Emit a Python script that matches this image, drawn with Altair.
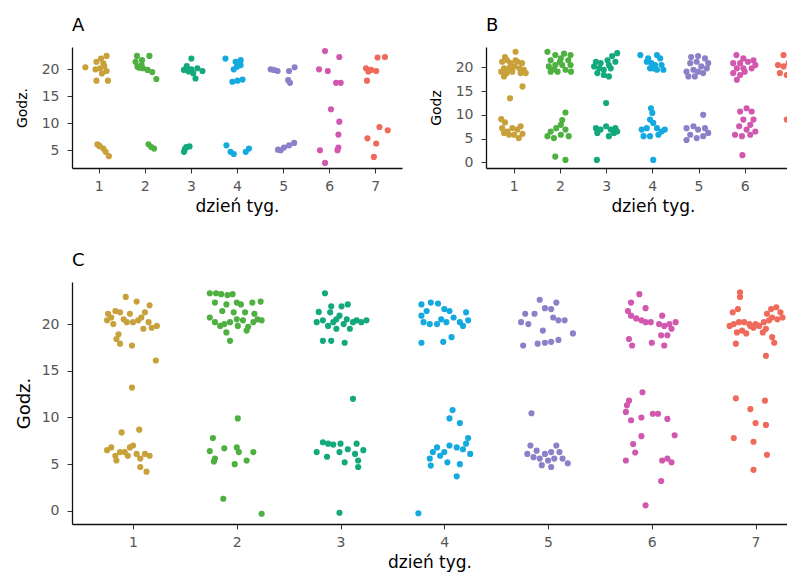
import altair as alt
import pandas as pd

DAYS = [1, 2, 3, 4, 5, 6, 7]
COLORS = ["#C9A13B", "#4DB040", "#12A97C", "#14AADF", "#8D80C9", "#D257AF", "#EF6A5B"]
X_TITLE = "dzień tyg."

# ---- Panel A: (jitter from day, hour) per day ----
A1 = [(-0.29, 20.4), (-0.05, 21.4), (0.05, 22.0), (0.17, 22.5), (0.10, 21.1), (-0.07, 20.0),
      (0.17, 19.7), (0.03, 20.2), (-0.05, 17.9), (0.20, 17.9), (0.07, 19.25), (0.12, 20.6),
      (-0.03, 6.1), (0.02, 5.75), (0.10, 5.3), (0.15, 4.7), (0.22, 3.9), (0.00, 5.9)]
A2 = [(-0.17, 22.5), (0.10, 22.5), (-0.20, 21.4), (-0.06, 21.7), (-0.16, 20.5), (-0.04, 20.2),
      (0.06, 19.9), (-0.07, 20.8), (0.16, 19.5), (0.25, 18.2), (-0.12, 20.3),
      (0.08, 6.1), (0.20, 5.3), (0.14, 5.6)]
A3 = [(0.01, 22.0), (-0.15, 19.9), (0.01, 20.0), (0.14, 20.2), (0.25, 19.7), (0.05, 19.3),
      (0.10, 18.3), (-0.09, 20.6), (-0.05, 19.6),
      (-0.15, 4.7), (-0.10, 5.6), (-0.03, 5.7), (-0.13, 5.2)]
A4 = [(-0.25, 22.0), (-0.03, 21.4), (0.08, 21.7), (0.08, 20.8), (-0.07, 20.0), (0.00, 20.5),
      (-0.10, 17.7), (0.12, 18.1), (0.01, 17.9),
      (-0.23, 5.9), (-0.14, 4.7), (-0.07, 4.3), (0.19, 4.7), (0.26, 5.3)]
A5 = [(-0.27, 20.0), (-0.12, 19.7), (-0.20, 19.9), (0.13, 19.7), (0.25, 20.4), (0.11, 18.0),
      (0.15, 17.5),
      (-0.11, 5.1), (0.02, 5.5), (0.13, 5.9), (0.24, 6.35), (-0.05, 5.0)]
A6 = [(-0.09, 23.4), (0.22, 22.3), (-0.22, 20.0), (-0.03, 19.7), (0.15, 17.5), (0.25, 17.5),
      (0.04, 12.6), (0.22, 10.3), (0.20, 7.9), (-0.20, 5.0), (0.18, 5.0), (0.20, 5.5), (-0.09, 2.65)]
A7 = [(0.05, 22.2), (0.21, 22.3), (-0.20, 20.2), (-0.09, 19.9), (0.02, 19.7), (-0.15, 19.6),
      (-0.18, 17.9),
      (0.09, 9.3), (0.27, 8.7), (-0.17, 7.2), (0.02, 6.25), (-0.03, 3.75)]

# ---- Panel B ----
B1 = [(0.04, 23.3), (-0.19, 22.2), (-0.25, 21.2), (-0.07, 20.9), (0.08, 21.2), (0.18, 20.9),
      (-0.21, 19.8), (-0.10, 19.8), (0.01, 20.2), (0.12, 19.8), (0.22, 19.5), (-0.27, 19.1),
      (-0.15, 18.8), (-0.03, 19.1), (0.15, 18.8), (0.26, 18.8), (-0.21, 18.1), (0.04, 21.5),
      (-0.14, 21.5), (0.19, 16.0), (-0.08, 13.5),
      (-0.27, 9.1), (-0.19, 8.4), (-0.25, 7.2), (-0.14, 6.5), (-0.03, 7.2), (0.08, 6.9),
      (0.15, 7.6), (0.19, 6.0), (0.01, 5.8), (-0.10, 5.8), (0.11, 5.1), (-0.21, 6.2)]
B2 = [(-0.27, 23.3), (-0.10, 22.6), (0.09, 22.9), (0.23, 22.6), (-0.20, 21.5), (0.02, 21.9),
      (0.18, 21.5), (-0.24, 20.2), (-0.10, 20.5), (0.05, 20.5), (0.23, 20.5), (-0.20, 19.1),
      (-0.05, 19.1), (0.12, 19.5), (0.24, 19.1), (0.00, 21.2), (-0.13, 19.6),
      (0.12, 10.5), (0.05, 8.9), (0.02, 7.9), (-0.08, 7.2), (0.12, 6.9), (-0.20, 6.5),
      (-0.27, 5.5), (-0.13, 5.1), (0.02, 5.8), (0.19, 5.5), (-0.10, 1.2), (0.12, 0.5)]
B3 = [(0.24, 23.0), (0.13, 22.4), (0.03, 21.5), (-0.22, 21.2), (-0.12, 20.9), (0.06, 20.5),
      (0.20, 21.2), (-0.26, 20.2), (-0.15, 19.8), (-0.05, 19.5), (0.10, 19.8), (-0.19, 18.8),
      (-0.05, 18.4), (0.06, 18.1), (0.00, 12.5),
      (-0.22, 7.2), (-0.12, 6.9), (0.00, 7.6), (0.10, 6.9), (0.20, 7.2), (-0.19, 6.2),
      (0.06, 5.5), (0.17, 6.2), (0.24, 6.5), (-0.20, 0.5)]
B4 = [(-0.26, 22.6), (-0.09, 21.9), (0.10, 22.6), (0.17, 21.9), (-0.02, 20.9), (0.06, 20.5),
      (0.20, 20.5), (-0.05, 19.8), (0.10, 19.5), (0.24, 19.5), (-0.12, 21.2), (0.02, 19.8),
      (-0.03, 11.4), (0.00, 10.4), (-0.05, 9.0), (0.02, 8.3), (-0.12, 7.2), (-0.23, 6.9),
      (0.10, 7.2), (0.20, 6.5), (0.27, 6.9), (-0.19, 5.5), (-0.05, 5.5), (0.13, 5.8), (0.02, 0.5)]
B5 = [(-0.16, 22.2), (-0.01, 22.4), (0.14, 21.9), (0.21, 20.9), (-0.18, 20.9), (-0.04, 21.2),
      (0.06, 20.2), (0.18, 19.8), (-0.26, 19.1), (-0.11, 19.5), (0.10, 18.8), (-0.22, 18.1),
      (-0.08, 18.1), (-0.01, 19.1),
      (0.10, 10.0), (-0.26, 7.2), (-0.11, 7.6), (-0.01, 6.9), (0.14, 7.2), (0.21, 6.2),
      (-0.18, 5.8), (-0.04, 5.1), (0.10, 5.5), (-0.26, 4.7)]
B6 = [(-0.18, 22.6), (-0.03, 21.9), (-0.25, 20.9), (-0.10, 20.9), (0.07, 21.2), (0.19, 21.5),
      (-0.17, 19.8), (-0.03, 19.8), (0.15, 19.8), (0.23, 20.5), (-0.25, 18.8), (-0.10, 18.4),
      (0.00, 19.1), (-0.17, 17.4),
      (0.04, 11.4), (0.15, 10.7), (-0.10, 10.7), (0.19, 9.0), (-0.03, 9.0), (0.12, 7.9),
      (-0.12, 7.6), (0.04, 6.9), (-0.21, 5.8), (-0.06, 5.5), (0.12, 5.8), (0.23, 6.5), (-0.05, 1.5)]
B7 = [(-0.16, 22.6), (0.02, 22.9), (-0.28, 20.5), (-0.16, 20.2), (-0.05, 20.9), (0.05, 19.8),
      (-0.24, 18.8), (-0.09, 18.4), (0.02, 17.4), (0.12, 20.9), (0.20, 20.0), (0.25, 21.5),
      (0.18, 18.7),
      (0.07, 12.5), (0.05, 11.1), (-0.09, 9.0), (-0.02, 7.9), (0.20, 10.0)]

# ---- Panel C ----
C1 = [(-0.07, 22.9), (0.035, 22.4), (0.16, 22.0), (-0.24, 21.1), (-0.17, 21.4), (-0.125, 21.25),
      (-0.21, 20.7), (-0.25, 20.4), (-0.19, 20.0), (-0.09, 20.5), (-0.03, 21.1), (-0.06, 20.2),
      (0.00, 20.2), (0.08, 20.7), (0.115, 21.25), (0.15, 20.2), (0.05, 20.4), (0.10, 19.5),
      (0.23, 19.8), (0.18, 19.6), (-0.14, 18.9), (-0.16, 18.4), (-0.125, 17.9), (-0.01, 17.7),
      (0.22, 16.1), (-0.01, 13.2),
      (-0.11, 8.4), (0.06, 8.7), (-0.25, 6.5), (-0.21, 6.8), (-0.17, 5.9), (-0.125, 6.3),
      (-0.16, 5.4), (-0.08, 6.3), (-0.03, 6.8), (0.00, 7.0), (-0.05, 5.9), (0.035, 6.1),
      (0.07, 5.6), (0.16, 5.9), (0.115, 6.1), (0.07, 4.7), (0.13, 4.2)]
C2 = [(-0.26, 23.3), (-0.20, 23.3), (-0.15, 23.2), (-0.09, 23.1), (-0.04, 23.2), (-0.21, 22.3),
      (-0.10, 22.1), (0.00, 22.3), (0.04, 22.1), (0.15, 22.3), (0.23, 22.4), (-0.14, 21.4),
      (-0.03, 21.25), (0.08, 21.25), (0.17, 21.1), (-0.26, 20.7), (-0.21, 20.2), (-0.16, 19.8),
      (-0.12, 20.0), (-0.065, 20.2), (0.00, 20.5), (0.01, 19.8), (0.06, 20.4), (0.11, 19.7),
      (0.16, 20.2), (0.20, 20.5), (0.24, 20.4), (0.095, 19.3), (-0.10, 19.1), (-0.065, 18.2),
      (0.01, 9.9), (-0.23, 7.8), (-0.26, 6.4), (-0.21, 5.6), (-0.12, 6.7), (0.00, 6.8),
      (0.02, 6.3), (-0.02, 5.0), (0.095, 5.4), (0.16, 6.3), (-0.22, 5.3), (-0.13, 1.3), (0.24, -0.3)]
C3 = [(-0.15, 23.3), (-0.21, 21.3), (-0.09, 21.9), (0.01, 21.9), (0.07, 22.1), (-0.10, 21.25),
      (-0.23, 20.2), (-0.17, 20.4), (-0.12, 19.8), (-0.07, 20.2), (-0.04, 20.5), (-0.01, 20.9),
      (0.03, 20.0), (0.06, 20.5), (0.09, 19.5), (0.12, 20.2), (0.155, 20.4), (0.20, 20.2),
      (0.25, 20.4), (-0.04, 19.5), (-0.17, 18.2), (-0.09, 18.2), (0.04, 18.0), (0.12, 12.0),
      (-0.17, 7.35), (-0.12, 7.2), (-0.07, 7.1), (0.00, 7.2), (0.07, 6.6), (0.155, 7.2),
      (-0.23, 6.3), (-0.13, 5.8), (-0.01, 6.3), (0.04, 5.2), (0.14, 6.1), (0.22, 6.5),
      (0.17, 5.4), (0.17, 4.7), (-0.01, -0.2)]
C4 = [(-0.22, 22.1), (-0.13, 22.3), (-0.06, 22.2), (0.00, 21.6), (0.05, 21.4), (-0.17, 21.4),
      (-0.22, 20.9), (-0.20, 20.2), (-0.14, 20.0), (-0.07, 20.0), (-0.03, 20.5), (0.02, 20.2),
      (0.09, 20.7), (0.15, 20.2), (0.18, 19.8), (0.21, 21.25), (0.23, 20.4), (-0.22, 18.0),
      (-0.01, 18.1), (0.07, 18.6),
      (0.08, 10.8), (0.05, 9.9), (0.15, 9.4), (0.23, 7.8), (0.21, 7.2), (0.18, 6.6),
      (0.25, 6.1), (0.12, 6.8), (0.05, 7.0), (0.00, 6.3), (-0.04, 5.9), (-0.07, 6.8),
      (-0.11, 6.3), (-0.14, 5.6), (-0.13, 4.85), (0.03, 5.2), (0.15, 5.0), (0.12, 3.7), (-0.25, -0.25)]
C5 = [(-0.08, 22.6), (0.08, 22.3), (-0.03, 21.7), (0.03, 21.6), (-0.22, 21.1), (-0.13, 21.1),
      (-0.26, 20.2), (-0.19, 20.0), (0.05, 20.7), (0.10, 20.4), (0.16, 20.4), (-0.05, 19.3),
      (0.24, 19.0), (-0.24, 17.7), (-0.10, 17.9), (-0.03, 18.0), (0.03, 18.1), (0.10, 18.3),
      (-0.16, 10.45),
      (-0.17, 7.0), (-0.11, 6.45), (-0.20, 6.1), (-0.14, 5.75), (-0.08, 5.6), (-0.03, 6.1),
      (0.00, 5.4), (0.03, 6.3), (0.08, 7.0), (0.11, 6.3), (0.14, 5.6), (0.19, 5.1),
      (-0.06, 4.9), (0.03, 4.7), (0.06, 5.6)]
C6 = [(-0.12, 23.2), (-0.20, 22.3), (-0.06, 21.7), (-0.23, 21.4), (-0.20, 20.9), (-0.15, 20.6),
      (-0.10, 20.4), (-0.06, 20.2), (-0.01, 20.2), (0.10, 20.9), (0.07, 20.0), (0.12, 19.8),
      (0.17, 20.0), (0.23, 20.2), (0.19, 19.5), (0.09, 18.8), (0.15, 18.8), (-0.22, 18.4),
      (-0.19, 17.7), (0.00, 18.0), (0.12, 17.7),
      (-0.09, 12.7), (-0.22, 11.8), (-0.24, 11.3), (-0.25, 10.6), (-0.20, 9.7), (-0.10, 10.0),
      (0.01, 10.4), (0.06, 10.4), (0.15, 9.85), (0.22, 8.1), (-0.10, 8.0), (-0.18, 7.15),
      (-0.16, 6.25), (-0.25, 5.4), (0.10, 5.4), (0.15, 5.6), (0.19, 5.2), (0.09, 3.2), (-0.06, 0.6)]
C7 = [(-0.15, 23.4), (-0.15, 22.9), (-0.17, 21.6), (-0.22, 21.25), (-0.25, 19.8), (-0.21, 20.0),
      (-0.16, 20.2), (-0.11, 20.2), (-0.06, 20.0), (-0.18, 19.1), (-0.13, 19.3), (-0.09, 19.0),
      (-0.19, 17.9), (-0.02, 19.6), (0.035, 19.8), (0.08, 20.2), (0.11, 21.1), (0.15, 21.6),
      (0.20, 21.8), (0.24, 21.25), (0.26, 20.7), (0.16, 20.7), (0.21, 20.5), (0.13, 20.4),
      (0.10, 19.5), (0.07, 19.1), (0.16, 18.6), (0.18, 18.0), (0.10, 16.6), (-0.05, 19.8),
      (0.00, 20.0),
      (-0.19, 12.05), (0.09, 11.8), (-0.05, 10.9), (0.00, 9.4), (0.10, 9.2), (-0.21, 7.8),
      (-0.02, 7.4), (0.11, 6.0), (-0.02, 4.4)]

FONT = "DejaVu Sans"


def frame(day_lists):
    rows = []
    for day, pts in zip(DAYS, day_lists):
        for jit, hour in pts:
            rows.append({"day": day, "jit": jit, "hour": hour})
    return pd.DataFrame(rows)


def panel(df, label, ytitle, xdom, ydom, yticks, xticks, w, h, ytitle_size, ytitle_pad,
          xtitle_pad, xtitle_x=None):
    xaxis_kw = dict(values=xticks, title=X_TITLE, format="d", titlePadding=xtitle_pad)
    if xtitle_x is not None:
        xaxis_kw["titleX"] = xtitle_x
    return (
        alt.Chart(df)
        .mark_circle(size=38, opacity=1, clip=True)
        .transform_calculate(xpos="datum.day + datum.jit")
        .encode(
            x=alt.X("xpos:Q",
                    scale=alt.Scale(domain=xdom, nice=False, zero=False),
                    axis=alt.Axis(labelPadding=6, **xaxis_kw)),
            y=alt.Y("hour:Q",
                    scale=alt.Scale(domain=ydom, nice=False, zero=False),
                    axis=alt.Axis(values=yticks, title=ytitle, titleFontSize=ytitle_size,
                                  titlePadding=ytitle_pad, labelPadding=8)),
            color=alt.Color("day:N", scale=alt.Scale(domain=DAYS, range=COLORS), legend=None),
        )
        .properties(
            width=w, height=h,
            title=alt.TitleParams(label, anchor="start", frame="group", fontSize=18,
                                  font=FONT, fontWeight="normal", color="black", offset=12),
        )
    )


# the page is 796 px wide, but the chart may only be 780 px wide without being shrunk,
# so panels B and C are cut at the right edge (as in the reference, slightly earlier)
pA = panel(frame([A1, A2, A3, A4, A5, A6, A7]), "A", "Godz.", [0.42, 7.58], [1.7, 24.15],
           [5, 10, 15, 20], DAYS, 330, 121, 14, 12, 5)
pB = panel(frame([B1, B2, B3, B4, B5, B6, B7]), "B", "Godz", [0.40, 6.915], [-1.2, 24.3],
           [0, 5, 10, 15, 20], DAYS[:6], 301, 121, 14, 12, 5, 167)
pC = panel(frame([C1, C2, C3, C4, C5, C6, C7]), "C", "Godz.", [0.412, 7.303], [-1.4, 24.5],
           [0, 5, 10, 15, 20], DAYS, 715, 242, 18, 8, 5)

chart = (
    alt.vconcat(alt.hconcat(pA, pB, spacing=27), pC, spacing=38)
    .properties(padding={"left": 7, "top": 9, "right": 0, "bottom": 2})
    .configure_view(stroke=None)
    .configure_axis(
        grid=False, domainColor="#111", domainWidth=1.3, tickColor="#333", tickSize=5,
        tickWidth=1, labelColor="#555", labelFont=FONT, labelFontSize=14,
        titleFont=FONT, titleFontSize=17, titleFontWeight="normal", titleColor="black",
    )
)

chart.save("out.html", embed_options={"renderer": "svg", "actions": False})
